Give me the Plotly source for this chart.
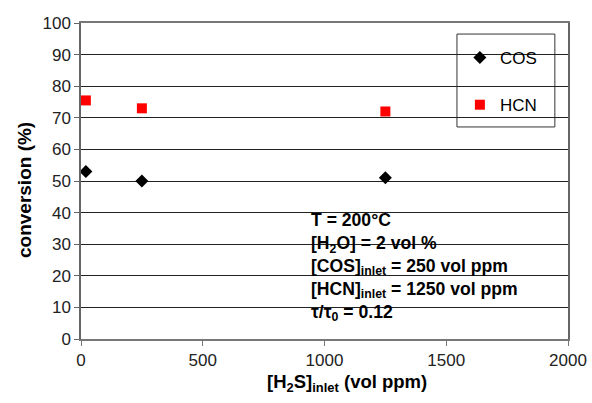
import plotly.graph_objects as go

h2s_cos = [20, 250, 1250]
cos_conv = [53, 50, 51]
h2s_hcn = [20, 250, 1250]
hcn_conv = [75.5, 73, 72]
note_lines = [
    "T = 200°C",
    "[H<sub>2</sub>O] = 2 vol %",
    "[COS]<sub>inlet</sub> = 250 vol ppm",
    "[HCN]<sub>inlet</sub> = 1250 vol ppm",
    "τ/τ<sub>0</sub> = 0.12",
]
x_title = "<b>[H<sub>2</sub>S]<sub>inlet</sub> (vol ppm)</b>"
y_title = "<b>conversion (%)</b>"

FONT = "Liberation Sans, Arial, sans-serif"

fig = go.Figure()
fig.add_trace(go.Scatter(x=h2s_cos, y=cos_conv, mode="markers", name="COS",
                         legendgroup="a",
                         marker=dict(symbol="diamond", size=10, color="black")))
fig.add_trace(go.Scatter(x=h2s_hcn, y=hcn_conv, mode="markers", name="HCN",
                         legendgroup="b",
                         marker=dict(symbol="square", size=10, color="#ff0000")))

fig.update_layout(
    width=592, height=403,
    margin=dict(l=81, r=24, t=23, b=64),
    paper_bgcolor="white", plot_bgcolor="white",
    font=dict(family=FONT, size=17, color="black"),
    showlegend=True,
    legend=dict(x=0.778, y=0.946, xanchor="left", yanchor="top",
                bgcolor="rgba(0,0,0,0)", borderwidth=0,
                font=dict(size=17, family=FONT), itemwidth=30,
                tracegroupgap=22),
    xaxis=dict(range=[0, 2000], tickvals=[0, 500, 1000, 1500, 2000],
               automargin=False,
               showgrid=False, zeroline=False, showline=True, linecolor="#777",
               linewidth=1.5, mirror=True, ticks="outside", ticklen=5,
               tickcolor="#777", tickfont=dict(size=17, color="#222")),
    yaxis=dict(range=[0, 100], dtick=10, showgrid=True, gridcolor="#222",
               automargin=False,
               gridwidth=1, zeroline=False, showline=True, linecolor="#666",
               linewidth=1.5, mirror=True, ticks="outside", ticklen=5,
               tickcolor="#666", tickfont=dict(size=17, color="#222")),
)

# legend frame
fig.add_shape(type="rect", xref="paper", yref="paper", x0=0.772, x1=0.973,
              y0=0.671, y1=0.965, fillcolor="white",
              line=dict(color="#333", width=1), layer="between")
# white box behind the note
fig.add_shape(type="rect", xref="paper", yref="paper", x0=0.443, x1=0.98,
              y0=0.076, y1=0.424, fillcolor="white", line=dict(width=0),
              layer="between")

fig.add_annotation(xref="paper", yref="paper", x=0.469, y=0.416,
                   xanchor="left", yanchor="top",
                   text="<b>" + "<br>".join(note_lines) + "</b>",
                   showarrow=False, align="left",
                   font=dict(size=17.6, family=FONT, color="black"))

fig.add_annotation(xref="paper", yref="paper", x=(347 - 81) / 487,
                   y=-(383 - 339) / 316, xanchor="center", yanchor="middle",
                   text=x_title, showarrow=False,
                   font=dict(size=18.5, family=FONT, color="black"))
fig.add_annotation(xref="paper", yref="paper", x=-(81 - 25) / 487,
                   y=(339 - 190) / 316, xanchor="center", yanchor="middle",
                   text=y_title, textangle=-90, showarrow=False,
                   font=dict(size=19, family=FONT, color="black"))

fig.write_html("out.html")
